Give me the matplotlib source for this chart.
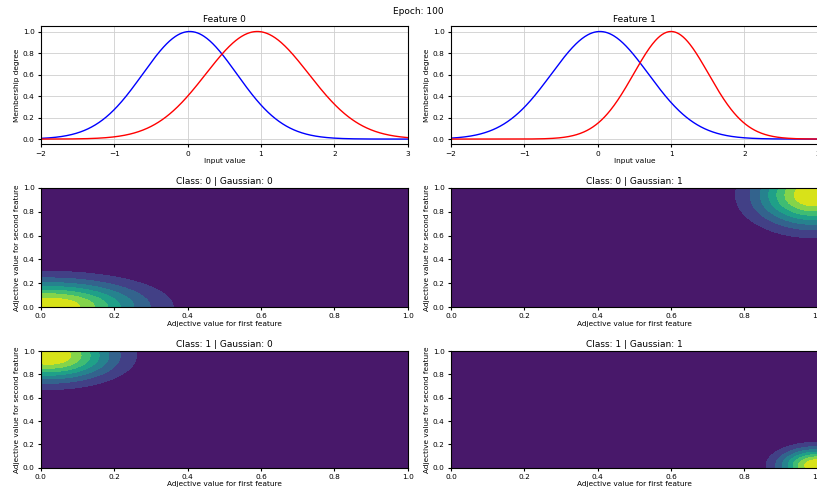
import matplotlib
matplotlib.use("Agg")
import matplotlib.pyplot as plt
import numpy as np

# Membership functions per input feature (Gaussian centre / width)
feature_names = ["Feature 0", "Feature 1"]
mf_centers = [[0.03, 0.95], [0.03, 1.00]]
mf_sigmas = [[0.64, 0.70], [0.66, 0.51]]
mf_colors = ["b", "r"]

# Rule activation maps over adjective space (class, gaussian)
rule_titles = ["Class: 0 | Gaussian: 0", "Class: 0 | Gaussian: 1",
               "Class: 1 | Gaussian: 0", "Class: 1 | Gaussian: 1"]
rule_cx = [0.02, 0.99, 0.02, 1.00]
rule_cy = [0.00, 0.94, 0.96, 0.02]
rule_sx = [0.167, 0.105, 0.118, 0.069]
rule_sy = [0.147, 0.176, 0.142, 0.098]

epoch = 100

plt.rcParams["font.size"] = 5.3
plt.rcParams["xtick.labelsize"] = 5.3
plt.rcParams["ytick.labelsize"] = 5.3

fig = plt.figure(figsize=(8.17, 4.93), dpi=100)
fig.suptitle("Epoch: %d" % epoch, x=0.512, y=0.985, fontsize=6.5)

lefts = [0.050, 0.552]
width = 0.449
rows = [(0.707, 0.240), (0.377, 0.242), (0.051, 0.237)]

# top row: membership functions
x = np.linspace(-2, 3, 500)
for i in range(2):
    ax = fig.add_axes([lefts[i], rows[0][0], width, rows[0][1]])
    for mu, sg, c in zip(mf_centers[i], mf_sigmas[i], mf_colors):
        ax.plot(x, np.exp(-(x - mu) ** 2 / (2 * sg ** 2)), color=c, linewidth=1)
    ax.set_xlim(-2, 3)
    ax.set_title(feature_names[i], fontsize=6.5, pad=3)
    ax.set_xlabel("Input value", labelpad=1)
    ax.set_ylabel("Membership degree", labelpad=2)
    ax.grid(True, color="#cfcfcf", linewidth=0.6)
    ax.tick_params(length=2.5, pad=2)

# lower rows: contour maps
gx, gy = np.meshgrid(np.linspace(0, 1, 300), np.linspace(0, 1, 300))
levels = np.linspace(0, 1, 9)
for k in range(4):
    r, c = 1 + k // 2, k % 2
    ax = fig.add_axes([lefts[c], rows[r][0], width, rows[r][1]])
    z = np.exp(-((gx - rule_cx[k]) ** 2 / (2 * rule_sx[k] ** 2)
                 + (gy - rule_cy[k]) ** 2 / (2 * rule_sy[k] ** 2)))
    ax.contourf(gx, gy, z, levels=levels, cmap="viridis")
    ax.set_title(rule_titles[k], fontsize=6.5, pad=3)
    ax.set_xlabel("Adjective value for first feature", labelpad=1)
    ax.set_ylabel("Adjective value for second feature", labelpad=2)
    ax.tick_params(length=2.5, pad=2)

fig.savefig("out.png", dpi=100)
